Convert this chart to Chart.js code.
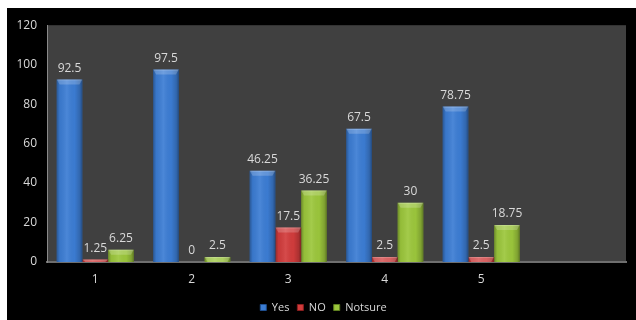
<!DOCTYPE html>
<html>
<head>
<meta charset="utf-8">
<script src="https://cdn.jsdelivr.net/npm/chart.js@4/dist/chart.umd.min.js"></script>
<style>
  html, body { margin: 0; padding: 0; background: #ffffff; overflow: hidden; }
  #panel { position: absolute; left: 7px; top: 8px; width: 629px; height: 312px; background: #000000; overflow: hidden; }
  canvas { display: block; }
</style>
</head>
<body>
<div id="panel"><canvas id="c" width="629" height="315"></canvas></div>
<script>
// Survey responses per question
const categories = ['1', '2', '3', '4', '5', ''];
const yesValues = [92.5, 97.5, 46.25, 67.5, 78.75];
const noValues = [1.25, 0, 17.5, 2.5, 2.5];
const notSureValues = [6.25, 2.5, 36.25, 30, 18.75];
const yTicks = [0, 20, 40, 60, 80, 100, 120];

const FONT = '"Open Sans", "Liberation Sans", sans-serif';
const TEXT = '#d9d9d9';

// Plot background, bar shading and value labels
const decor = {
  id: 'decor',
  afterLayout(chart) {
    // nudge the legend row a little to the right of the canvas centre
    if (chart.legend) {
      chart.legend.left += 7;
      chart.legend.right += 7;
    }
  },
  beforeDraw(chart) {
    const { ctx, chartArea: a } = chart;
    ctx.save();
    ctx.fillStyle = '#404040';
    ctx.fillRect(a.left, a.top, a.right - a.left, a.bottom - a.top);
    ctx.restore();
  },
  afterDatasetsDraw(chart) {
    const { ctx } = chart;
    chart.data.datasets.forEach((ds, di) => {
      const meta = chart.getDatasetMeta(di);
      meta.data.forEach((bar, i) => {
        const v = ds.data[i];
        if (v === undefined || v === null) return;
        const w = bar.width;
        const x0 = bar.x - w / 2, x1 = bar.x + w / 2;
        const top = bar.y, base = bar.base;
        const h = base - top;
        ctx.save();
        if (h > 0.5) {
          // horizontal cylinder-like shading
          const g = ctx.createLinearGradient(x0, 0, x1, 0);
          g.addColorStop(0, 'rgba(0,0,0,0.30)');
          g.addColorStop(0.12, 'rgba(0,0,0,0.05)');
          g.addColorStop(0.4, 'rgba(255,255,255,0.08)');
          g.addColorStop(0.7, 'rgba(0,0,0,0.02)');
          g.addColorStop(0.9, 'rgba(0,0,0,0.18)');
          g.addColorStop(1, 'rgba(0,0,0,0.40)');
          ctx.fillStyle = g;
          ctx.fillRect(x0, top, w, h);
          // bevelled top edge
          const bh = Math.min(5, h);
          ctx.beginPath();
          ctx.moveTo(x0, top);
          ctx.lineTo(x1, top);
          ctx.lineTo(x1 - 3, top + bh);
          ctx.lineTo(x0 + 3, top + bh);
          ctx.closePath();
          ctx.fillStyle = 'rgba(255,255,255,0.2)';
          ctx.fill();
          ctx.fillStyle = 'rgba(255,255,255,0.2)';
          ctx.fillRect(x0 + 1, top, w - 2, Math.min(1, h));
        }
        // value label
        ctx.fillStyle = TEXT;
        ctx.font = '12px ' + FONT;
        ctx.textAlign = 'center';
        ctx.textBaseline = 'middle';
        ctx.fillText(String(v), bar.x, top - 11);
        ctx.restore();
      });
    });
  }
};

new Chart(document.getElementById('c'), {
  type: 'bar',
  data: {
    labels: categories,
    datasets: [
      { label: 'Yes', data: yesValues, backgroundColor: '#3c7dd4', borderColor: '#1f4f90' },
      { label: 'NO', data: noValues, backgroundColor: '#d23c3c', borderColor: '#8a1f1f' },
      { label: 'Notsure', data: notSureValues, backgroundColor: '#9cc73c', borderColor: '#5f8020' }
    ]
  },
  options: {
    responsive: false,
    animation: false,
    events: [],
    categoryPercentage: 0.8,
    barPercentage: 1.0,
    borderWidth: 0,
    layout: { padding: { top: 14, right: 10, left: 0, bottom: 0 } },
    scales: {
      x: {
        grid: { display: false, drawTicks: false },
        border: { display: true, color: '#6e6e6e', width: 2 },
        ticks: { color: TEXT, font: { family: FONT, size: 12 }, padding: 10 },
        afterFit(s) { s.height = 32; }
      },
      y: {
        min: 0,
        max: 120,
        afterBuildTicks(s) { s.ticks = yTicks.map(v => ({ value: v })); },
        grid: { display: false, drawTicks: false },
        border: { display: true, color: '#8a8a8a', width: 1 },
        ticks: { color: TEXT, font: { family: FONT, size: 12 }, padding: 10 },
        afterFit(s) { s.width = 40; }
      }
    },
    plugins: {
      tooltip: { enabled: false },
      legend: {
        position: 'bottom',
        labels: {
          color: TEXT,
          font: { family: FONT, size: 11 },
          boxWidth: 6,
          boxHeight: 6,
          padding: 8,
          generateLabels(chart) {
            return chart.data.datasets.map((ds, i) => ({
              text: ds.label,
              fillStyle: ds.backgroundColor,
              strokeStyle: ds.borderColor,
              lineWidth: 1,
              fontColor: TEXT,
              datasetIndex: i,
              hidden: false
            }));
          }
        }
      }
    }
  },
  plugins: [decor]
});
</script>
</body>
</html>
